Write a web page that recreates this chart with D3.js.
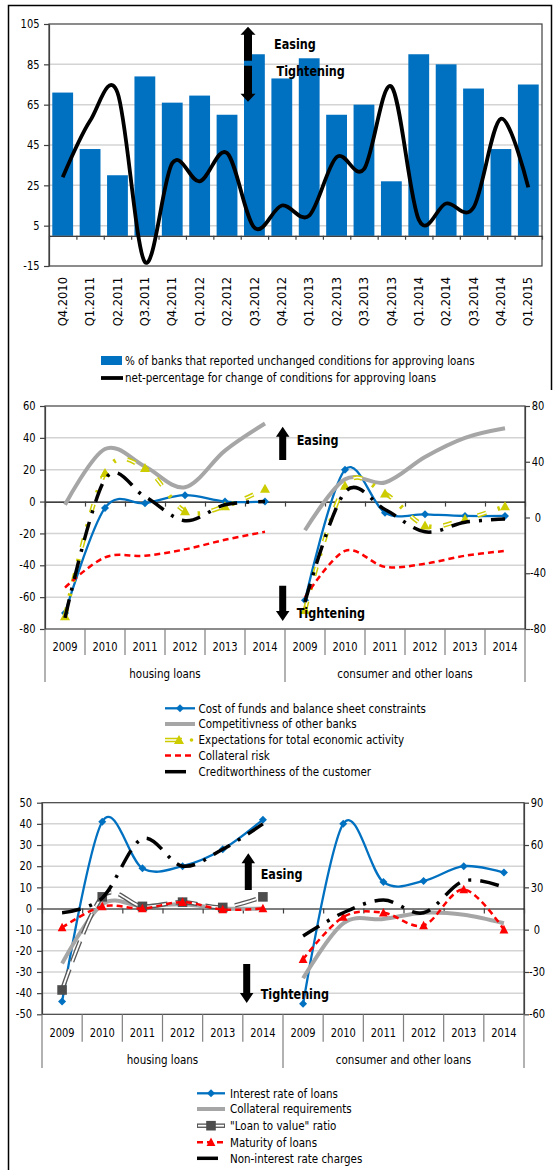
<!DOCTYPE html>
<html>
<head>
<meta charset="utf-8">
<script src="https://cdn.jsdelivr.net/npm/d3@7"></script>
<style>
  body { margin: 0; background: #fff; }
  svg { display: block; font-family: "DejaVu Sans", Verdana, sans-serif; }
</style>
</head>
<body>
<div id="chart"></div>
<script>
// panel 1 - quarterly survey
const quarters = ["Q4.2010", "Q1.2011", "Q2.2011", "Q3.2011", "Q4.2011", "Q1.2012", "Q2.2012", "Q3.2012", "Q4.2012",
  "Q1.2013", "Q2.2013", "Q3.2013", "Q4.2013", "Q1.2014", "Q2.2014", "Q3.2014", "Q4.2014", "Q1.2015"];
const unchangedShare = [71, 43, 30, 79, 66, 69.5, 60, 90, 78, 88, 60, 65, 27, 90, 85, 73, 43, 75];
const netChange = [29, 57, 71, -13, 36, 27, 41, 4, 15, 10, 39, 33, 74, 8, 16, 14, 58, 24];
const pctTicks = [-15, 5, 25, 45, 65, 85, 105];

// panels 2 and 3 - housing 2009..2014 then consumer 2009..2014
const years = ["2009", "2010", "2011", "2012", "2013", "2014"];
const loanGroups = ["housing loans", "consumer and other loans"];

const costOfFunds = [-70, -4, -1, 4, 0, 0, -62, 20, -7, -8, -9, -9];
const competition = [-2, 33, 22, 9, 32, 49, -18, 14, 12, 28, 40, 46];
const econExpectations = [-72, 18, 21, -6, -3, 8, -68, 10, 5, -15, -11, -3];
const collateralRisk = [-54, -35, -34, -30, -24, -19, -60, -31, -41, -39, -34, -31];
const creditworthiness = [-73, 14, 3, -12, -2, 0, -63, 6, -5, -19, -13, -11];
const factorTicksL = [-80, -60, -40, -20, 0, 20, 40, 60];
const factorTicksR = [-80, -40, 0, 40, 80];

const interestRate = [-44, 41, 19, 20, 28, 42, -45, 40, 12.5, 13, 20, 17];
const collateralReq = [-26, 2, 1, 2, 0, 0, -33, -7, -5, -2, -3, -7];
const loanToValue = [-38.5, 5.5, 1, 3, 0.5, 5.5, null, null, null, null, null, null];
const loanMaturity = [-9, 1, 0, 3, -0.5, 0, -24, -4, -2, -8, 9, -10];
const nonInterestCharges = [-2, 5, 33, 20, 28, 40, -13, -2, 4, -2, 13, 10];
const termsTicksL = [-50, -40, -30, -20, -10, 0, 10, 20, 30, 40, 50];
const termsTicksR = [-60, -30, 0, 30, 60, 90];

(function() {
  const width = 556;
  const height = 1170;
  const blue = "#0070c0";
  const gridColor = "#d4d4d4";
  const frameColor = "#404040";
  const curve = d3.curveCatmullRom.alpha(0); // close to excel smoothing

  const svg = d3.select("#chart")
    .append("svg")
    .attr("width", width)
    .attr("height", height)
    .attr("viewBox", [0, 0, width, height]);

  // outer frame
  svg.append("path")
    .attr("d", "M8.5,1170 V5.5 H551.5 V390")
    .attr("fill", "none")
    .attr("stroke", "#000")
    .attr("stroke-width", 1.5);

  function styleAxis(g) {
    g.attr("font-family", null).attr("font-size", null);
    g.select(".domain").attr("stroke", frameColor).attr("stroke-width", 1.2);
    g.selectAll(".tick line").attr("stroke", frameColor).attr("stroke-width", 1.2);
    g.selectAll(".tick text").attr("font-size", 11.5).attr("fill", "#000").classed("sq", true);
  }

  function arrow(g, x, yTip, yBase, shaftW, headW, headL) {
    const dir = yTip < yBase ? 1 : -1;
    const yNeck = yTip + dir * headL;
    const p = d3.path();
    p.moveTo(x, yTip);
    p.lineTo(x + headW / 2, yNeck);
    p.lineTo(x + shaftW / 2, yNeck);
    p.lineTo(x + shaftW / 2, yBase);
    p.lineTo(x - shaftW / 2, yBase);
    p.lineTo(x - shaftW / 2, yNeck);
    p.lineTo(x - headW / 2, yNeck);
    p.closePath();
    g.append("path").attr("d", p.toString()).attr("fill", "#000");
  }

  function boldLabel(g, x, y, txt) {
    g.append("text")
      .attr("x", x)
      .attr("y", y)
      .attr("dy", "0.36em")
      .attr("font-size", 13.5)
      .attr("font-weight", "bold")
      .classed("sqb", true)
      .text(txt);
  }

  // ---------- panel 1 ----------
  const x1 = d3.scaleBand().domain(quarters).range([49, 542]).paddingInner(0.24).paddingOuter(0.12);
  const y1 = d3.scaleLinear().domain([-15, 105]).range([266, 24]);
  const g1 = svg.append("g");

  g1.selectAll(".grid")
    .data(pctTicks.slice(1, -1))
    .join("line")
    .attr("x1", 49).attr("x2", 542)
    .attr("y1", d => y1(d)).attr("y2", d => y1(d))
    .attr("stroke", gridColor)
    .attr("stroke-width", 1.5);

  g1.selectAll(".bar")
    .data(quarters)
    .join("rect")
    .attr("x", d => x1(d))
    .attr("width", x1.bandwidth())
    .attr("y", (d, i) => y1(Math.max(0, unchangedShare[i])))
    .attr("height", (d, i) => Math.abs(y1(unchangedShare[i]) - y1(0)))
    .attr("fill", blue);

  g1.append("rect")
    .attr("x", 49).attr("y", y1(105))
    .attr("width", 542 - 49).attr("height", y1(-15) - y1(105))
    .attr("fill", "none").attr("stroke", frameColor).attr("stroke-width", 1.2);

  g1.append("g")
    .attr("transform", "translate(49,0)")
    .call(d3.axisLeft(y1).tickValues(pctTicks).tickSize(5).tickPadding(4.5).tickSizeOuter(0).tickFormat(d => String(d)))
    .call(styleAxis);

  const xb1 = d3.scaleLinear().domain([0, quarters.length]).range([49, 542]);
  g1.append("g")
    .attr("transform", `translate(0,${y1(0)})`)
    .call(d3.axisBottom(xb1).tickValues(d3.range(quarters.length + 1)).tickFormat("").tickSize(4).tickSizeOuter(0))
    .call(styleAxis)
    .select(".domain").attr("stroke", "#000");

  g1.selectAll(".qlabel")
    .data(quarters)
    .join("text")
    .attr("transform", d => `translate(${x1(d) + x1.bandwidth() / 2},277) rotate(-90)`)
    .attr("text-anchor", "end")
    .attr("dy", "0.36em")
    .attr("font-size", 11.5)
    .text(d => d);

  const netLine = d3.line()
    .x((d, i) => x1(quarters[i]) + x1.bandwidth() / 2)
    .y(d => y1(d))
    .curve(curve);
  g1.append("path")
    .attr("d", netLine(netChange))
    .attr("fill", "none")
    .attr("stroke", "#000")
    .attr("stroke-width", 3.8);

  arrow(g1, 248, 26.7, 60.7, 8, 15, 8);
  arrow(g1, 248, 101.7, 65.7, 8, 15, 8);
  boldLabel(g1, 274, 44, "Easing");
  boldLabel(g1, 276.6, 71, "Tightening");

  g1.append("rect").attr("x", 101).attr("y", 356).attr("width", 21).attr("height", 9).attr("fill", blue);
  g1.append("line").attr("x1", 101).attr("x2", 123).attr("y1", 378).attr("y2", 378)
    .attr("stroke", "#000").attr("stroke-width", 3.8);
  g1.append("text").attr("x", 125).attr("y", 361).attr("dy", "0.36em").attr("font-size", 12).classed("sq", true)
    .text("% of banks that reported unchanged conditions for approving loans");
  g1.append("text").attr("x", 125).attr("y", 378).attr("dy", "0.36em").attr("font-size", 12).classed("sq", true)
    .text("net-percentage for change of conditions for approving loans");

  // ---------- panels 2 and 3 ----------
  const diamond = "M0,-4 L4,0 L0,4 L-4,0Z";
  const yTri = "M0,-5 L5,4 L-5,4Z";
  const rTri = "M0,-4.8 L4.4,3.8 L-4.4,3.8Z";
  const square = "M-4.8,-4.8 H4.8 V4.8 H-4.8Z";

  function strokePath(g, d, style) {
    const base = () => g.append("path").attr("d", d).attr("fill", "none");
    if (style === "blue") base().attr("stroke", blue).attr("stroke-width", 2.3);
    if (style === "gray") base().attr("stroke", "#a6a6a6").attr("stroke-width", 4);
    if (style === "yellow") {
      base().attr("stroke", "#cccc00").attr("stroke-width", 4.5).attr("stroke-dasharray", "9,12,2.5,12");
      base().attr("stroke", "#fff").attr("stroke-width", 1.5).attr("stroke-dasharray", "9,26.5");
    }
    if (style === "red" || style === "redTri") base().attr("stroke", "#ff0000").attr("stroke-width", 2.5).attr("stroke-dasharray", "6,4");
    if (style === "black") base().attr("stroke", "#000").attr("stroke-width", 3.5).attr("stroke-dasharray", "19,9,3,9");
    if (style === "ltv") {
      base().attr("stroke", "#595959").attr("stroke-width", 4.5).attr("stroke-dasharray", "22,8");
      base().attr("stroke", "#fff").attr("stroke-width", 1.8).attr("stroke-dasharray", "22,8");
    }
  }

  function marker(g, x, y, style) {
    const m = { blue: [diamond, blue], yellow: [yTri, "#cccc00"], redTri: [rTri, "#ff0000"], ltv: [square, "#4d4d4d"] }[style];
    if (!m) return;
    g.append("path").attr("d", m[0]).attr("fill", m[1]).attr("transform", `translate(${x},${y})`);
  }

  function drawSeries(g, cx, y, values, style) {
    const line = d3.line().curve(curve);
    [0, 6].forEach(start => {
      const idx = d3.range(start, start + 6).filter(i => values[i] != null);
      if (idx.length < 2) return;
      const pts = idx.map(i => [cx(i), y(values[i])]);
      strokePath(g, line(pts), style);
      pts.forEach(p => marker(g, p[0], p[1], style));
    });
  }

  function swatch(g, style, xa, xb, y) {
    const mid = (xa + xb) / 2;
    if (style === "yellow") {
      g.append("line").attr("x1", xa).attr("x2", xa + 17).attr("y1", y).attr("y2", y).attr("stroke", "#cccc00").attr("stroke-width", 4.5);
      g.append("line").attr("x1", xa).attr("x2", xa + 17).attr("y1", y).attr("y2", y).attr("stroke", "#fff").attr("stroke-width", 1.5);
      marker(g, xa + 14, y, "yellow");
      g.append("circle").attr("cx", xa + 26.5).attr("cy", y).attr("r", 1.8).attr("fill", "#cccc00");
      return;
    }
    if (style === "black") {
      g.append("line").attr("x1", xa).attr("x2", xa + 21).attr("y1", y).attr("y2", y).attr("stroke", "#000").attr("stroke-width", 3.5);
      return;
    }
    if (style === "ltv") {
      g.append("line").attr("x1", xa).attr("x2", xb).attr("y1", y).attr("y2", y).attr("stroke", "#595959").attr("stroke-width", 4.5);
      g.append("line").attr("x1", xa + 1).attr("x2", xb - 1).attr("y1", y).attr("y2", y).attr("stroke", "#fff").attr("stroke-width", 1.8);
      marker(g, mid, y, "ltv");
      return;
    }
    strokePath(g, `M${xa},${y}H${xb}`, style);
    marker(g, mid, y, style);
  }

  function factorPanel(cfg) {
    const { left, right, top, bottom } = cfg.box;
    const x = d3.scaleBand().domain(d3.range(12)).range([left, right]);
    const cx = i => x(i) + x.bandwidth() / 2;
    const xb = d3.scaleLinear().domain([0, 12]).range([left, right]);
    const yL = d3.scaleLinear().domain(cfg.domL).range([bottom, top]);
    const yR = d3.scaleLinear().domain(cfg.domR).range([bottom, top]);
    const g = svg.append("g");

    g.selectAll(".grid")
      .data(cfg.ticksL.filter(t => t !== 0 && t !== cfg.domL[0] && t !== cfg.domL[1]))
      .join("line")
      .attr("x1", left).attr("x2", right)
      .attr("y1", d => yL(d)).attr("y2", d => yL(d))
      .attr("stroke", gridColor).attr("stroke-width", 1.5);

    g.append("rect")
      .attr("x", left).attr("y", top).attr("width", right - left).attr("height", bottom - top)
      .attr("fill", "none").attr("stroke", frameColor).attr("stroke-width", 1.2);

    g.append("g")
      .attr("transform", `translate(0,${yL(0)})`)
      .call(d3.axisBottom(xb).tickValues(d3.range(13)).tickFormat("").tickSize(5).tickSizeOuter(0))
      .call(styleAxis)
      .select(".domain").attr("stroke", "#000");

    g.append("g")
      .attr("transform", `translate(${left},0)`)
      .call(d3.axisLeft(yL).tickValues(cfg.ticksL).tickSize(5).tickPadding(cfg.padL).tickSizeOuter(0).tickFormat(d => String(d)))
      .call(styleAxis);

    const ar = g.append("g")
      .attr("transform", `translate(${right},0)`)
      .call(d3.axisRight(yR).tickValues(cfg.ticksR).tickSize(5).tickSizeOuter(0).tickFormat(d => String(d)))
      .call(styleAxis);
    ar.selectAll(".tick text").attr("text-anchor", "middle").attr("x", cfg.rightLabelX - right);

    // category axis below the plot
    g.selectAll(".sep")
      .data(d3.range(13))
      .join("line")
      .attr("x1", d => xb(d)).attr("x2", d => xb(d))
      .attr("y1", bottom)
      .attr("y2", d => (d % 6 === 0 ? cfg.groupSepY : cfg.sepY))
      .attr("stroke", "#7f7f7f").attr("stroke-width", 1.2);

    g.selectAll(".year")
      .data(d3.range(12))
      .join("text")
      .attr("x", d => cx(d))
      .attr("y", cfg.yearY)
      .attr("dy", "0.36em")
      .attr("text-anchor", "middle")
      .attr("font-size", 11.5)
      .classed("sq", true)
      .text(d => years[d % 6]);

    g.selectAll(".group")
      .data(loanGroups)
      .join("text")
      .attr("x", (d, i) => (xb(i * 6) + xb(i * 6 + 6)) / 2)
      .attr("y", cfg.groupY)
      .attr("dy", "0.36em")
      .attr("text-anchor", "middle")
      .attr("font-size", 12)
      .classed("sq", true)
      .text(d => d);

    cfg.series.forEach(s => drawSeries(g, cx, yL, s.values, s.style));

    const a = cfg.annot;
    arrow(g, a.upX, a.up[0], a.up[1], 7, 13.5, 10);
    arrow(g, a.downX, a.down[1], a.down[0], 7, 13.5, 10);
    boldLabel(g, a.textX, a.easeY, "Easing");
    boldLabel(g, a.textX, a.tightY, "Tightening");

    const lg = cfg.legend;
    cfg.series.forEach((s, i) => {
      swatch(g, s.style, lg.x0, lg.x1, lg.rows[i]);
      g.append("text")
        .attr("x", lg.tx).attr("y", lg.rows[i]).attr("dy", "0.36em")
        .attr("font-size", 12)
        .classed("sq", true)
        .text(s.name);
    });
  }

  factorPanel({
    box: { left: 45, right: 525, top: 406, bottom: 629 },
    domL: [-80, 60], ticksL: factorTicksL, padL: 4.5,
    domR: [-80, 80], ticksR: factorTicksR, rightLabelX: 538,
    yearY: 647, sepY: 655, groupY: 674, groupSepY: 682,
    series: [
      { name: "Cost of funds and balance sheet constraints", values: costOfFunds, style: "blue" },
      { name: "Competitivness of other banks", values: competition, style: "gray" },
      { name: "Expectations for total economic activity", values: econExpectations, style: "yellow" },
      { name: "Collateral risk", values: collateralRisk, style: "red" },
      { name: "Creditworthiness of the customer", values: creditworthiness, style: "black" }
    ],
    annot: { upX: 282.7, downX: 282.7, up: [426.7, 460], down: [585.7, 621], textX: 296.7, easeY: 440, tightY: 613.3 },
    legend: { x0: 165, x1: 195, tx: 198.6, rows: [708.3, 724, 740, 755.5, 771.7] }
  });

  factorPanel({
    box: { left: 42, right: 524, top: 802.7, bottom: 1014.3 },
    domL: [-50, 50], ticksL: termsTicksL, padL: 5,
    domR: [-60, 90], ticksR: termsTicksR, rightLabelX: 537,
    yearY: 1033.3, sepY: 1041.7, groupY: 1060, groupSepY: 1068,
    series: [
      { name: "Interest rate of loans", values: interestRate, style: "blue" },
      { name: "Collateral requirements", values: collateralReq, style: "gray" },
      { name: "\"Loan to value\" ratio", values: loanToValue, style: "ltv" },
      { name: "Maturity of loans", values: loanMaturity, style: "redTri" },
      { name: "Non-interest rate charges", values: nonInterestCharges, style: "black" }
    ],
    annot: { upX: 248.3, downX: 246.7, up: [853.3, 890], down: [964, 1003], textX: 260.7, easeY: 874, tightY: 994 },
    legend: { x0: 197, x1: 225, tx: 230, rows: [1093.3, 1109, 1125.7, 1142.3, 1158.3] }
  });

  // narrow the glyphs to match the condensed look of the original
  function squeeze(sel, k) {
    sel.each(function() {
      const w = this.getComputedTextLength();
      d3.select(this).attr("textLength", w * k).attr("lengthAdjust", "spacingAndGlyphs");
    });
  }
  svg.selectAll("text.sq").call(squeeze, 0.86);
  svg.selectAll("text.sqb").call(squeeze, 0.83);
})();
</script>
</body>
</html>
